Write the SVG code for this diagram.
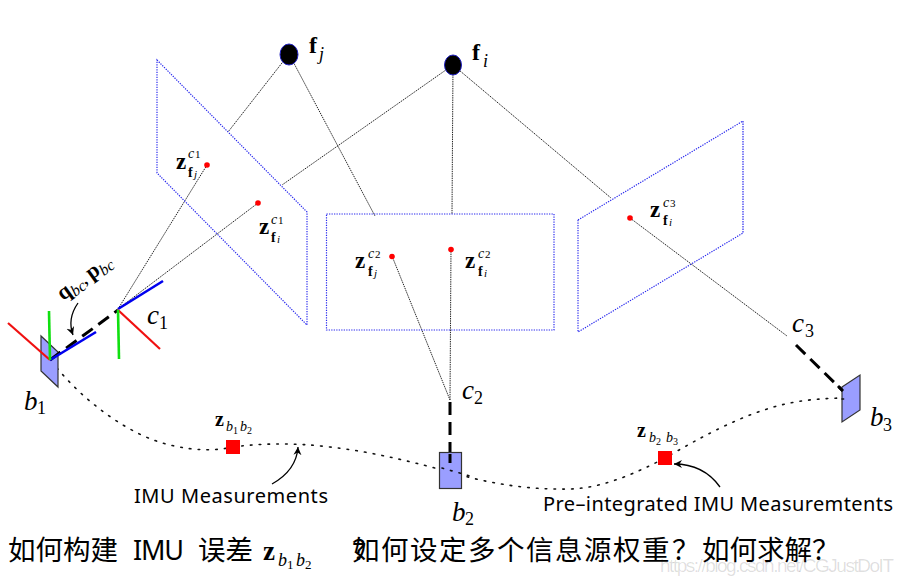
<svg xmlns="http://www.w3.org/2000/svg" width="902" height="581" viewBox="0 0 902 581">
<style>
.plane{fill:none;stroke:#2a2aee;stroke-width:1.2;stroke-dasharray:1.3 1.2}
.ray{fill:none;stroke:#222;stroke-width:1;stroke-dasharray:1.4 .9}
.traj{fill:none;stroke:#111;stroke-width:1.6;stroke-dasharray:1.6 7.2;stroke-linecap:round}
.dash{fill:none;stroke:#000;stroke-width:3;stroke-dasharray:13 7}
.blue{stroke:#0000ee;stroke-width:2.6}.red{stroke:#f01010;stroke-width:2.2}.green{stroke:#10e010;stroke-width:2.6}
.body{fill:#9a9eff;stroke:#333;stroke-width:1.2}
.feat{fill:#000;stroke:#2020c0;stroke-width:1}
.pt{fill:#f00}
.meas{fill:#f00}
.arr{fill:none;stroke:#000;stroke-width:1.3;marker-end:url(#ah)}
text{fill:#000}
.m{font-family:"Liberation Serif",serif;font-style:italic}
.b{font-family:"Liberation Serif",serif;font-weight:bold}
.s{font-family:"Noto Sans","Open Sans",sans-serif;font-size:20px}
.c{font-family:"Noto Sans CJK SC",sans-serif;font-size:27.5px}
</style>
<defs>
<marker id="ah" markerWidth="10" markerHeight="10" refX="8" refY="4" orient="auto" markerUnits="userSpaceOnUse">
<path d="M0 0L8 4L0 8L2.5 4Z" fill="#000"/>
</marker>
</defs>
<g id="connectors">
<path class="ray" d="M289 54L228 132M289 54L375 216M453 65L282 185M258 203L118 309M207 165L118 309M453 65L452 214M451 249L450 400M392 256L450 400M453 65L611 198M630 218L787 336"/>
<path class="traj" d="M57 368C85 402 130 436 170 445C195 451 215 451 233 447C255 444 290 442 330 447C375 452 420 464 450 472C490 484 530 490 570 489C605 488 640 471 665 458C700 438 745 412 790 403C810 399 830 398 850 398"/>
<path class="dash" d="M50 360L118 310M450 402V470M796 345L843 391"/>
<path class="arr" d="M78 303C71 313 69 324 73 335"/>
<path class="arr" d="M272 484C288 475 297 462 298 447"/>
<path class="arr" d="M720 487C710 473 695 464 674 464"/>
</g>
<g id="plane-c1"><path class="plane" d="M157 60L307 212V325L157 173Z"/></g>
<g id="plane-c2"><rect class="plane" x="326.500" y="214" width="227.500" height="116"/></g>
<g id="plane-c3"><path class="plane" d="M578 220L743 121V233L578 332Z"/></g>
<g id="feature-fj"><ellipse class="feat" cx="289" cy="54.500" rx="9" ry="10.500"/>
<text class="b" x="309" y="53" font-size="24">f</text><text class="m" x="319" y="60" font-size="18">j</text></g>
<g id="feature-fi"><ellipse class="feat" cx="453" cy="65" rx="8.500" ry="10"/>
<text class="b" x="472" y="60" font-size="24">f</text><text class="m" x="483" y="67" font-size="18">i</text></g>
<g id="obs-c1-fj"><circle class="pt" cx="207" cy="165" r="2.800"/>
<text class="b" x="176" y="169" font-size="23">z</text><text class="b" x="188" y="177" font-size="14">f</text><text class="m" x="194" y="178" font-size="11">j</text><text class="m" x="188" y="158" font-size="14">c</text><text x="195" y="158" font-size="11" font-family="Liberation Serif,serif">1</text></g>
<g id="obs-c1-fi"><circle class="pt" cx="258" cy="203" r="2.800"/>
<text class="b" x="259" y="234" font-size="23">z</text><text class="b" x="271" y="242" font-size="14">f</text><text class="m" x="277" y="243" font-size="11">i</text><text class="m" x="271" y="224" font-size="14">c</text><text x="278" y="224" font-size="11" font-family="Liberation Serif,serif">1</text></g>
<g id="obs-c2-fj"><circle class="pt" cx="392" cy="256.500" r="2.800"/>
<text class="b" x="355" y="268" font-size="23">z</text><text class="b" x="368" y="276" font-size="14">f</text><text class="m" x="374" y="277" font-size="11">j</text><text class="m" x="368" y="258" font-size="14">c</text><text x="375" y="258" font-size="11" font-family="Liberation Serif,serif">2</text></g>
<g id="obs-c2-fi"><circle class="pt" cx="451" cy="249.500" r="2.800"/>
<text class="b" x="465" y="268" font-size="23">z</text><text class="b" x="478" y="276" font-size="14">f</text><text class="m" x="484" y="277" font-size="11">i</text><text class="m" x="478" y="258" font-size="14">c</text><text x="485" y="258" font-size="11" font-family="Liberation Serif,serif">2</text></g>
<g id="obs-c3-fi"><circle class="pt" cx="630" cy="218" r="2.800"/>
<text class="b" x="650" y="217" font-size="23">z</text><text class="b" x="663" y="225" font-size="14">f</text><text class="m" x="669" y="226" font-size="11">i</text><text class="m" x="663" y="207" font-size="14">c</text><text x="670" y="207" font-size="11" font-family="Liberation Serif,serif">3</text></g>
<g id="b1"><path class="body" d="M41 336V371L58 387V352Z"/>
<path class="dash" d="M50 360L66 348" stroke-dasharray="none"/>
<path class="blue" d="M50 360L96 332"/><path class="red" d="M50 360L8 323"/><path class="green" d="M50 360L49 311"/>
<text class="m" x="24" y="410" font-size="27">b</text><text x="37" y="414" font-size="18" font-family="Liberation Serif,serif">1</text></g>
<g id="c1"><path class="blue" d="M118 309L163 281"/><path class="red" d="M118 310L160 349"/><path class="green" d="M118 310L119 359"/>
<text class="m" x="147" y="324" font-size="27">c</text><text x="159" y="329" font-size="18" font-family="Liberation Serif,serif">1</text></g>
<g id="c2"><text class="m" x="462" y="399" font-size="27">c</text><text x="474" y="404" font-size="18" font-family="Liberation Serif,serif">2</text></g>
<g id="c3"><text class="m" x="792" y="332" font-size="27">c</text><text x="805" y="337" font-size="18" font-family="Liberation Serif,serif">3</text></g>
<g id="b2"><rect class="body" x="439.500" y="452.500" width="22" height="36"/>
<path d="M450 454V463" stroke="#000" stroke-width="3"/>
<path class="traj" d="M442 468L470 476"/>
<text class="m" x="452" y="521" font-size="27">b</text><text x="465" y="525" font-size="18" font-family="Liberation Serif,serif">2</text></g>
<g id="b3"><path class="body" d="M842 387L860 375V410L842 422Z"/>
<path d="M838 386L843 391" stroke="#000" stroke-width="3"/>
<path class="traj" d="M842 399H850"/>
<text class="m" x="870" y="426" font-size="27">b</text><text x="883" y="431" font-size="18" font-family="Liberation Serif,serif">3</text></g>
<g id="extrinsic-label"><text transform="translate(63 301) rotate(-36)" font-size="22"><tspan class="b">q</tspan><tspan class="m" font-size="16" dy="4">bc</tspan><tspan class="b" font-size="16" dy="-4">, </tspan><tspan class="b">p</tspan><tspan class="m" font-size="16" dy="4">bc</tspan></text></g>
<g id="z-b1b2"><rect class="meas" x="226" y="440" width="14" height="14"/>
<text class="b" x="215" y="426" font-size="20">z</text><text class="m" x="226" y="431" font-size="14">b</text><text x="233" y="434" font-size="10" font-family="Liberation Serif,serif">1</text><text class="m" x="240" y="431" font-size="14">b</text><text x="247" y="434" font-size="10" font-family="Liberation Serif,serif">2</text></g>
<g id="z-b2b3"><rect class="meas" x="658" y="451" width="14" height="14"/>
<text class="b" x="637" y="437" font-size="20">z</text><text class="m" x="649" y="442" font-size="14">b</text><text x="656" y="445" font-size="10" font-family="Liberation Serif,serif">2</text><text class="m" x="666" y="442" font-size="14">b</text><text x="673" y="445" font-size="10" font-family="Liberation Serif,serif">3</text></g>
<text class="s" x="134" y="503" textLength="194" lengthAdjust="spacing">IMU Measurements</text>
<text class="s" x="543" y="511" textLength="350" lengthAdjust="spacing">Pre–integrated IMU Measuremtents</text>
<g id="question">
<text class="c" x="8" y="560">如何构建</text>
<text x="133" y="560" font-family="Noto Sans,sans-serif" font-size="27" textLength="51" lengthAdjust="spacing">IMU</text>
<text class="c" x="198" y="560">误差</text>
<text class="b" x="263" y="560" font-size="27">z</text><text class="m" x="278" y="566" font-size="18">b</text><text x="287" y="569" font-size="13" font-family="Liberation Serif,serif">1</text><text class="m" x="296" y="566" font-size="18">b</text><text x="305" y="569" font-size="13" font-family="Liberation Serif,serif">2</text>
<text class="c" x="352" y="560" letter-spacing="1.2">？</text>
<text class="c" x="352" y="560" letter-spacing="1.5">如何设定多个信息源权重</text>
<text class="c" x="672" y="560">？</text>
<text class="c" x="702" y="560">如何求解</text>
<text class="c" x="812" y="560">？</text>
</g>
<text x="660" y="572" font-family="Liberation Sans,sans-serif" font-size="19" fill="#000" fill-opacity=".13" textLength="234" style="fill:#000">https://blog.csdn.net/CGJustDoIT</text>
</svg>
